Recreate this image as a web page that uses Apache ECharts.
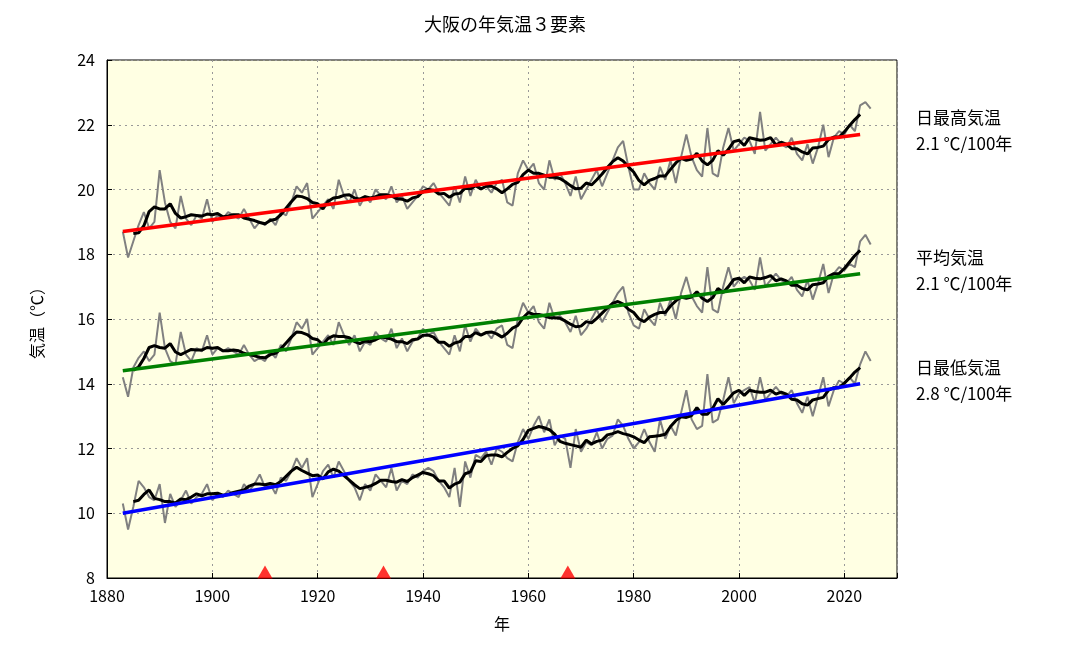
<!DOCTYPE html>
<html>
<head>
<meta charset="utf-8">
<script src="https://cdn.jsdelivr.net/npm/echarts@6/dist/echarts.min.js"></script>
<style>
html,body{margin:0;padding:0;background:#fff;}
#main{width:1073px;height:648px;}
</style>
</head>
<body>
<div id="main"></div>
<script>
// 大阪 年平均 日最高・平均・日最低気温 (1883-2025)
var startYear = 1883;
var tmax = [18.7,17.9,18.4,18.9,19.3,18.8,19.0,20.6,19.6,19.0,18.8,19.8,19.1,18.9,19.2,19.1,19.7,19.0,19.2,19.1,
	19.3,19.2,19.1,19.4,19.1,18.8,19.0,18.9,19.1,18.9,19.3,19.2,19.6,20.1,19.9,20.2,19.1,19.3,
	19.5,19.7,19.4,20.3,19.8,19.6,20.0,19.5,19.8,19.6,20.0,19.8,19.7,20.1,19.6,19.8,19.4,19.6,19.8,20.1,
	20.0,20.2,19.9,19.7,19.5,20.1,19.6,20.4,19.8,20.3,20.0,20.1,19.9,20.2,20.3,19.6,19.5,20.5,20.9,20.6,
	20.8,20.2,20.0,20.9,20.3,20.5,20.2,19.8,20.4,19.7,20.0,20.3,20.6,20.1,20.5,20.9,21.3,21.5,20.7,20.0,
	20.0,20.5,20.2,20.0,20.7,20.3,20.9,20.2,21.0,21.7,21.0,20.6,20.4,21.9,20.5,20.4,21.3,21.9,21.2,21.4,
	21.6,21.5,21.1,22.4,21.2,21.4,21.6,21.4,21.3,21.6,21.1,20.9,21.4,20.8,21.3,22.0,21.0,21.6,21.8,21.7,
	22.0,21.8,22.6,22.7,22.5];
var tavg = [14.2,13.6,14.5,14.8,15.0,14.7,14.9,16.2,15.1,14.7,14.6,15.6,14.9,14.7,15.1,15.0,15.5,14.9,15.1,15.0,
	15.1,15.0,14.9,15.2,14.9,14.7,14.8,14.7,15.0,14.8,15.2,15.0,15.4,15.9,15.7,16.0,14.9,15.1,
	15.3,15.5,15.2,15.9,15.5,15.2,15.5,15.0,15.3,15.2,15.6,15.4,15.3,15.7,15.1,15.4,15.0,15.3,15.4,15.7,
	15.5,15.6,15.3,15.1,14.9,15.5,15.0,15.8,15.3,15.7,15.5,15.6,15.4,15.7,15.8,15.2,15.1,16.0,16.5,16.2,
	16.4,15.9,15.7,16.5,16.0,16.1,15.9,15.6,16.1,15.5,15.7,16.0,16.3,15.9,16.2,16.5,16.8,17.0,16.2,15.8,
	15.7,16.3,16.0,15.8,16.5,16.1,16.6,16.0,16.8,17.3,16.7,16.4,16.2,17.6,16.3,16.2,17.0,17.6,17.0,17.2,
	17.3,17.2,16.9,17.9,17.0,17.2,17.4,17.2,17.1,17.3,16.9,16.7,17.2,16.6,17.1,17.7,16.8,17.4,17.6,17.5,
	17.7,17.6,18.4,18.6,18.3];
var tmin = [10.3,9.5,10.2,11.0,10.8,10.5,10.4,10.9,9.7,10.6,10.2,10.4,10.7,10.3,10.5,10.6,10.9,10.4,10.6,10.5,
	10.7,10.6,10.5,10.9,10.7,10.9,11.2,10.8,10.9,10.6,11.1,11.0,11.3,11.7,11.4,11.7,10.5,10.9,
	11.3,11.5,11.1,11.6,11.3,11.0,10.8,10.4,10.9,10.7,11.2,11.0,10.8,11.4,10.7,11.0,10.9,11.2,11.1,11.3,
	11.4,11.3,11.0,10.8,10.5,11.4,10.2,11.6,11.1,11.8,11.7,11.9,11.5,12.0,11.9,11.7,11.6,12.2,12.6,12.3,
	12.7,13.0,12.5,12.9,12.1,12.4,12.3,11.4,12.6,11.9,12.2,12.1,12.5,12.0,12.3,12.4,12.9,12.7,12.3,12.0,
	12.2,12.6,12.2,11.9,12.9,12.3,12.7,12.4,13.1,13.8,12.9,12.6,12.7,14.3,12.8,12.9,13.5,14.2,13.4,13.7,
	13.8,13.9,13.4,14.2,13.5,13.7,13.9,13.7,13.6,13.8,13.4,13.1,13.6,13.0,13.6,14.2,13.3,13.8,14.1,14.0,
	14.2,14.0,14.6,15.0,14.7];
// 長期変化傾向 (1883年, 2023年の値)
var trendYears = [1883, 2023];
var trendMax = [18.7, 21.7];
var trendAvg = [14.4, 17.4];
var trendMin = [10.0, 14.0];
// 観測場所移転
var moveYears = [1910, 1932.5, 1967.5];

var labels = [
	{name: '日最高気温', rate: '2.1 ℃/100年', y: 105},
	{name: '平均気温', rate: '2.1 ℃/100年', y: 245},
	{name: '日最低気温', rate: '2.8 ℃/100年', y: 355}
];

function pairs(arr) {
	var out = [];
	for (var i = 0; i < arr.length; i++) out.push([startYear + i, arr[i]]);
	return out;
}
// 5年移動平均
function movingAvg(arr) {
	var out = [];
	for (var i = 2; i < arr.length - 2; i++) {
		var s = 0;
		for (var k = -2; k <= 2; k++) s += arr[i + k];
		out.push([startYear + i, +(s / 5).toFixed(2)]);
	}
	return out;
}
function trend(vals) {
	return [[trendYears[0], vals[0]], [trendYears[1], vals[1]]];
}

var series = [];
[tmax, tavg, tmin].forEach(function(d) {
	series.push({type: 'line', data: pairs(d), symbol: 'none', z: 2,
		lineStyle: {color: '#808080', width: 2}});
});
[tmax, tavg, tmin].forEach(function(d) {
	series.push({type: 'line', data: movingAvg(d), symbol: 'none', z: 3,
		lineStyle: {color: '#000', width: 3}});
});
[[trendMax, '#ff0000'], [trendAvg, '#008000'], [trendMin, '#0000ff']].forEach(function(t) {
	series.push({type: 'line', data: trend(t[0]), symbol: 'none', z: 4,
		lineStyle: {color: t[1], width: 3.5}});
});
series.push({type: 'scatter', data: moveYears.map(function(y){ return [y, 8]; }),
	symbol: 'triangle', symbolSize: [15, 13], symbolOffset: [0, -6], z: 5,
	itemStyle: {color: '#ff0000'}});

var graphics = [];
labels.forEach(function(l) {
	graphics.push({type: 'text', left: 916, top: l.y, style: {text: l.name + '\n' + l.rate,
		font: '17px "Noto Sans CJK JP"', lineHeight: 26, fill: '#000'}});
});

var chart = echarts.init(document.getElementById('main'));
chart.setOption({
	animation: false,
	title: {text: '大阪の年気温３要素', left: 500, top: 10, textAlign: 'center',
		textStyle: {fontFamily: 'Noto Sans CJK JP', fontSize: 18, fontWeight: 'normal', color: '#000'}},
	grid: {left: 107, right: 176, top: 60, bottom: 70, show: true, backgroundColor: '#ffffe3',
		borderColor: '#000', borderWidth: 1},
	xAxis: {type: 'value', min: 1880, max: 2030, interval: 20,
		name: '年', nameLocation: 'middle', nameGap: 38,
		nameTextStyle: {fontFamily: 'Noto Sans CJK JP', fontSize: 16, color: '#000'},
		axisLine: {lineStyle: {color: '#000'}}, axisTick: {inside: true, length: 5, lineStyle: {color: '#000'}},
		axisLabel: {color: '#000', fontSize: 16, fontFamily: 'Noto Sans CJK JP', margin: 10,
			formatter: function(v){ return v % 20 === 0 && v < 2030 ? String(v) : ''; }},
		splitLine: {show: true, lineStyle: {color: '#999', type: [2, 4]}}},
	yAxis: {type: 'value', min: 8, max: 24, interval: 2,
		name: '気温（℃）', nameLocation: 'middle', nameGap: 62, nameRotate: 90,
		nameTextStyle: {fontFamily: 'Noto Sans CJK JP', fontSize: 16, color: '#000'},
		axisLine: {show: true, lineStyle: {color: '#000'}}, axisTick: {inside: true, length: 5, lineStyle: {color: '#000'}},
		axisLabel: {color: '#000', fontSize: 16, fontFamily: 'Noto Sans CJK JP', margin: 12},
		splitLine: {show: true, lineStyle: {color: '#999', type: [2, 4]}}},
	graphic: graphics,
	series: series
});
</script>
</body>
</html>
